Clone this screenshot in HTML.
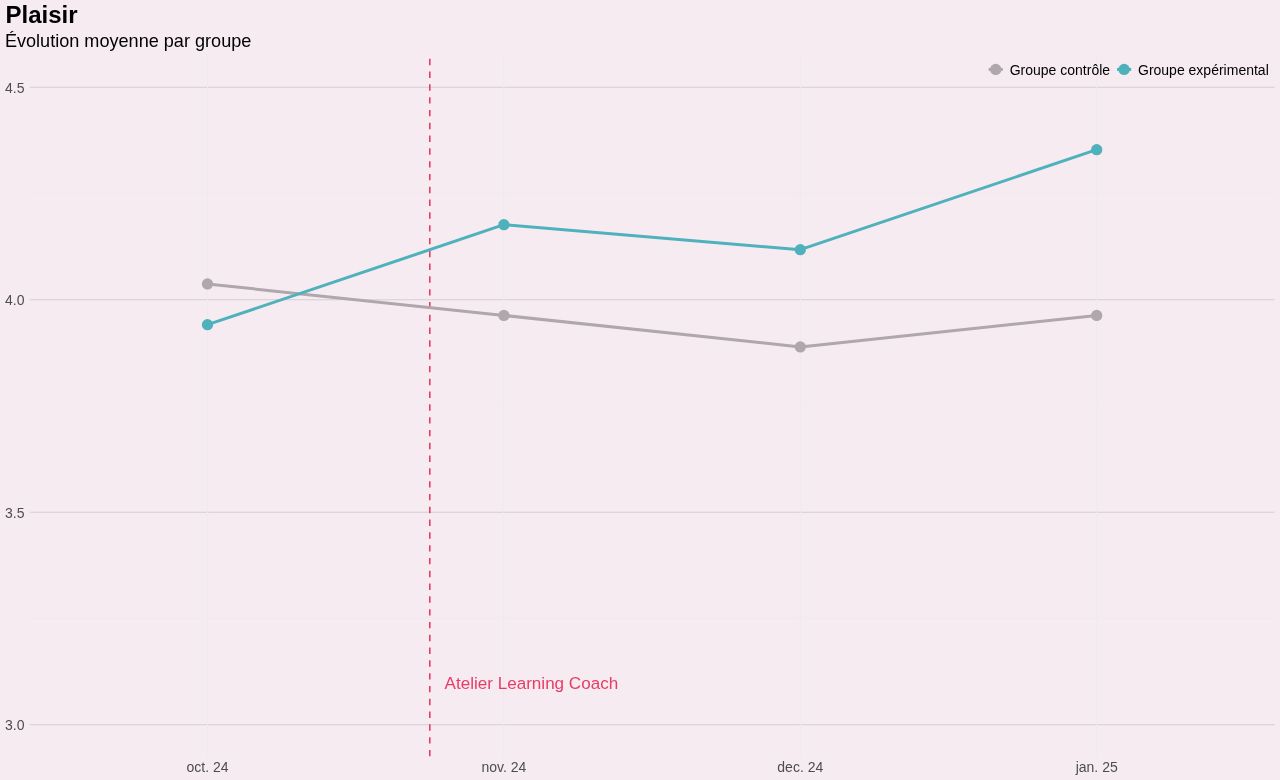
<!DOCTYPE html>
<html lang="fr"><head><meta charset="utf-8"><title>Plaisir</title>
<style>html,body{margin:0;padding:0;background:#f6ebf1;}body{width:1280px;height:780px;overflow:hidden;}svg{display:block;}text{font-family:"Liberation Sans",sans-serif;}</style>
</head><body>
<svg width="1280" height="780" viewBox="0 0 1280 780">
<rect x="0" y="0" width="1280" height="780" fill="#f6ebf1"/>
<g stroke="#edeaec" stroke-width="0.53" fill="none">
<line x1="29.85" x2="1274.54" y1="618.45" y2="618.45"/>
<line x1="29.85" x2="1274.54" y1="405.95" y2="405.95"/>
<line x1="29.85" x2="1274.54" y1="193.45" y2="193.45"/>
</g>
<g stroke="#d4cdd5" stroke-width="1.07" fill="none">
<line x1="29.85" x2="1274.54" y1="724.70" y2="724.70"/>
<line x1="29.85" x2="1274.54" y1="512.20" y2="512.20"/>
<line x1="29.85" x2="1274.54" y1="299.70" y2="299.70"/>
<line x1="29.85" x2="1274.54" y1="87.20" y2="87.20"/>
</g>
<g stroke="#edeaec" stroke-width="1.07" fill="none">
<line x1="207.50" x2="207.50" y1="55.30" y2="756.60"/>
<line x1="503.90" x2="503.90" y1="55.30" y2="756.60"/>
<line x1="800.30" x2="800.30" y1="55.30" y2="756.60"/>
<line x1="1096.70" x2="1096.70" y1="55.30" y2="756.60"/>
</g>
<line x1="429.80" x2="429.80" y1="756.35" y2="55.30" stroke="#e83c64" stroke-width="1.6" stroke-dasharray="6.4 6.4"/>
<polyline points="207.50,283.96 503.90,315.44 800.30,346.92 1096.70,315.44" fill="none" stroke="#afa7ac" stroke-width="3" stroke-linejoin="round" stroke-linecap="butt"/>
<polyline points="207.50,324.70 503.90,224.70 800.30,249.70 1096.70,149.70" fill="none" stroke="#4eb1bc" stroke-width="3" stroke-linejoin="round" stroke-linecap="butt"/>
<circle cx="207.50" cy="283.96" r="5.65" fill="#afa7ac"/>
<circle cx="503.90" cy="315.44" r="5.65" fill="#afa7ac"/>
<circle cx="800.30" cy="346.92" r="5.65" fill="#afa7ac"/>
<circle cx="1096.70" cy="315.44" r="5.65" fill="#afa7ac"/>
<circle cx="207.50" cy="324.70" r="5.65" fill="#4eb1bc"/>
<circle cx="503.90" cy="224.70" r="5.65" fill="#4eb1bc"/>
<circle cx="800.30" cy="249.70" r="5.65" fill="#4eb1bc"/>
<circle cx="1096.70" cy="149.70" r="5.65" fill="#4eb1bc"/>
<text x="444.6" y="689" font-size="17.07" fill="#e83c64">Atelier Learning Coach</text>
<line x1="988.70" x2="1002.80" y1="69.45" y2="69.45" stroke="#afa7ac" stroke-width="3"/>
<circle cx="995.75" cy="69.45" r="5.65" fill="#afa7ac"/>
<line x1="1117.05" x2="1131.15" y1="69.45" y2="69.45" stroke="#4eb1bc" stroke-width="3"/>
<circle cx="1124.10" cy="69.45" r="5.65" fill="#4eb1bc"/>
<text x="1009.7" y="74.7" font-size="14" fill="#000000">Groupe contrôle</text>
<text x="1138" y="74.7" font-size="14" fill="#000000">Groupe expérimental</text>
<g font-size="14" fill="#4d4d4d">
<text x="24.5" y="730.00" text-anchor="end">3.0</text>
<text x="24.5" y="517.50" text-anchor="end">3.5</text>
<text x="24.5" y="305.00" text-anchor="end">4.0</text>
<text x="24.5" y="92.50" text-anchor="end">4.5</text>
<text x="207.50" y="772" text-anchor="middle">oct. 24</text>
<text x="503.90" y="772" text-anchor="middle">nov. 24</text>
<text x="800.30" y="772" text-anchor="middle">dec. 24</text>
<text x="1096.70" y="772" text-anchor="middle">jan. 25</text>
</g>
<text x="5.5" y="23" font-size="24" font-weight="bold" fill="#000000">Plaisir</text>
<text x="4.9" y="46.9" font-size="18.1" fill="#000000">Évolution moyenne par groupe</text>
</svg>
</body></html>
